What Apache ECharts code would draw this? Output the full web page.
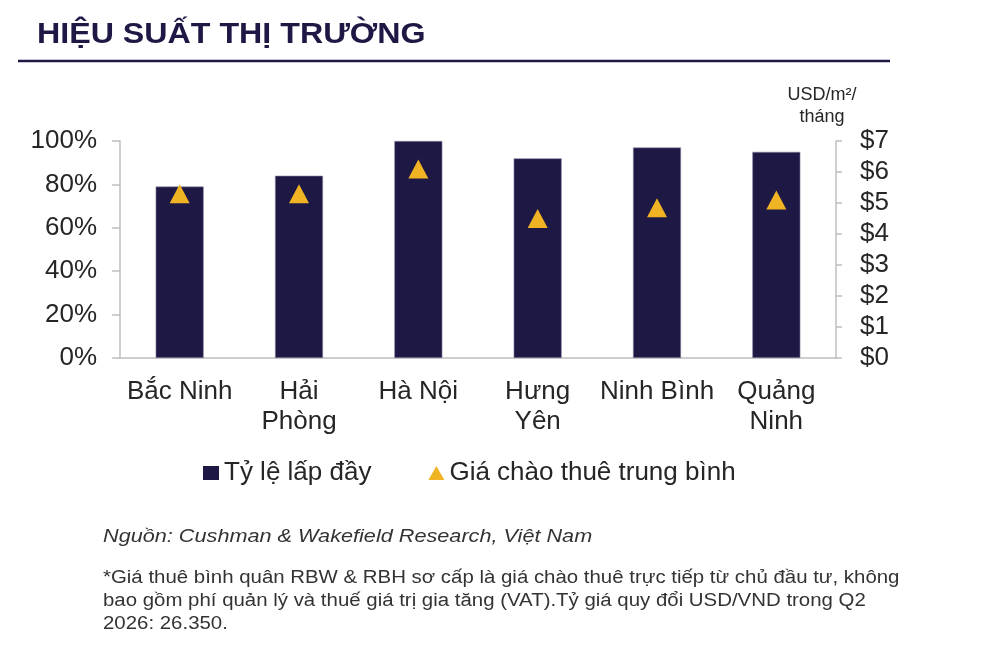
<!DOCTYPE html>
<html>
<head>
<meta charset="utf-8">
<script src="https://cdn.jsdelivr.net/npm/echarts@6/dist/echarts.min.js"></script>
<style>
  html, body { margin: 0; padding: 0; background: #fff; }
  #chart { width: 992px; height: 653px; }
</style>
</head>
<body>
<div id="chart"></div>
<script>
// tick labels for the cities (line breaks as in the source chart)
const cities = ["Bắc Ninh", "Hải\nPhòng", "Hà Nội", "Hưng\nYên", "Ninh Bình", "Quảng\nNinh"];
// occupancy rate, %
const occupancy = [79, 84, 100, 92, 97, 95];
// average asking rent, USD/m²/month
const askingRent = [5.3, 5.3, 6.1, 4.5, 4.85, 5.1];

const navy = "#1E1845";
const gold = "#F0B323";
const axisGrey = "#BFBFBF";
const textColor = "#262626";
const font = "Liberation Sans, Arial, sans-serif";

const chart = echarts.init(document.getElementById("chart"));

const option = {
  backgroundColor: "#fff",
  textStyle: { fontFamily: font },
  graphic: [
    {
      // page heading, slightly wide like the source
      type: "text",
      x: 37,
      y: 20,
      scaleX: 1.11,
      style: {
        text: "HIỆU SUẤT THỊ TRƯỜNG",
        font: "bold 29px " + font,
        fill: navy,
        verticalAlign: "top"
      }
    },
    {
      type: "line",
      shape: { x1: 18, y1: 61, x2: 890, y2: 61 },
      style: { stroke: navy, lineWidth: 2.5 }
    },
    {
      type: "text",
      x: 103,
      y: 527,
      scaleX: 1.14,
      style: {
        text: "Nguồn: Cushman & Wakefield Research, Việt Nam",
        font: "italic 19px " + font,
        fill: "#333",
        verticalAlign: "top"
      }
    },
    {
      type: "text",
      x: 103,
      y: 567,
      scaleX: 1.134,
      style: {
        text: "*Giá thuê bình quân RBW & RBH sơ cấp là giá chào thuê trực tiếp từ chủ đầu tư, không\n" +
              "bao gồm phí quản lý và thuế giá trị gia tăng (VAT).Tỷ giá quy đổi USD/VND trong Q2\n" +
              "2026: 26.350.",
        font: "18px " + font,
        lineHeight: 23,
        fill: "#333",
        verticalAlign: "top"
      }
    }
  ],
  legend: {
    left: 203,
    top: 460,
    padding: 0,
    itemGap: 57,
    itemWidth: 16,
    itemHeight: 14,
    textStyle: { fontFamily: font, fontSize: 26, color: textColor },
    data: [
      { name: "Tỷ lệ lấp đầy", icon: "rect", itemStyle: { borderWidth: 0 } },
      { name: "Giá chào thuê trung bình", icon: "triangle" }
    ]
  },
  grid: { left: 120, right: 156, top: 141, bottom: 295 },
  xAxis: {
    type: "category",
    data: cities,
    axisLine: { lineStyle: { color: axisGrey, width: 1.5 } },
    axisTick: { length: 7, lineStyle: { color: axisGrey, width: 1.5 } },
    axisLabel: { interval: 0, fontSize: 26, lineHeight: 30, color: textColor, margin: 19 }
  },
  yAxis: [
    {
      type: "value",
      min: 0,
      max: 100,
      interval: 20,
      splitLine: { show: false },
      axisLine: { show: true, lineStyle: { color: axisGrey, width: 1.5 } },
      axisTick: { show: true, length: 8, lineStyle: { color: axisGrey, width: 1.5 } },
      axisLabel: { fontSize: 26, color: textColor, margin: 23, formatter: "{value}%" }
    },
    {
      type: "value",
      min: 0,
      max: 7,
      interval: 1,
      name: "USD/m²/\ntháng",
      nameLocation: "end",
      nameGap: 12,
      nameTextStyle: { fontSize: 18, lineHeight: 22, color: textColor, align: "center", padding: [0, 28, 0, 0] },
      splitLine: { show: false },
      axisLine: { show: true, lineStyle: { color: axisGrey, width: 1.5 } },
      axisTick: { show: true, length: 6, lineStyle: { color: axisGrey, width: 1.5 } },
      axisLabel: { fontSize: 26, color: textColor, margin: 24, formatter: "${value}" }
    }
  ],
  series: [
    {
      name: "Tỷ lệ lấp đầy",
      type: "bar",
      data: occupancy,
      barWidth: 48,
      itemStyle: { color: navy, borderColor: "#8a87a3", borderWidth: 0.6 }
    },
    {
      name: "Giá chào thuê trung bình",
      type: "scatter",
      yAxisIndex: 1,
      data: askingRent,
      symbol: "triangle",
      symbolSize: [20, 19],
      itemStyle: { color: gold, opacity: 1 },
      z: 3
    }
  ]
};

chart.setOption(option);
</script>
</body>
</html>
